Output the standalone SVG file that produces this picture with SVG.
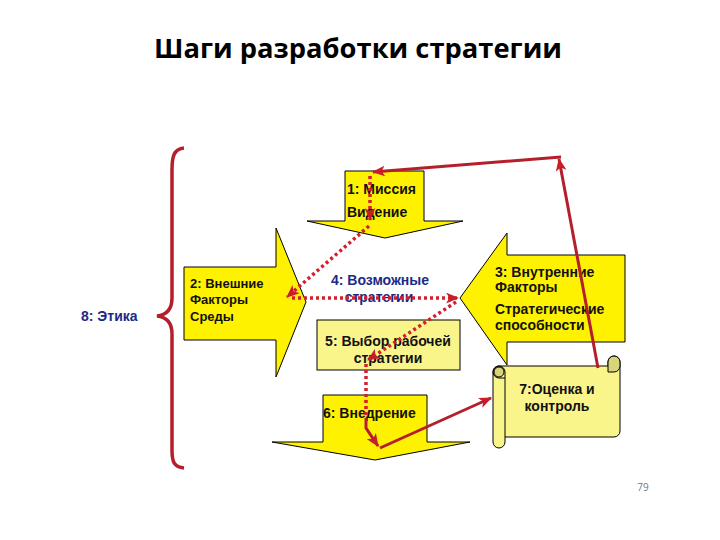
<svg xmlns="http://www.w3.org/2000/svg" width="720" height="540" viewBox="0 0 720 540">
<defs>
<style>
.arr{fill:#fff200;stroke:#000;stroke-width:1}
.pale{fill:#faf58a;stroke:#000;stroke-width:1}
.t{font-family:"Liberation Sans",Arial,sans-serif;font-weight:bold;font-size:14px;fill:#111}
.t2{font-family:"Liberation Sans",Arial,sans-serif;font-weight:bold;font-size:13px;fill:#111}
.blue{font-family:"Liberation Sans",Arial,sans-serif;font-weight:bold;font-size:14px;fill:#1c2a86}
.dot{fill:none;stroke:#d2202e;stroke-width:3.5;stroke-dasharray:3 3}
.sol{fill:none;stroke:#b51f2c;stroke-width:3}
</style>
<marker id="ah" viewBox="0 0 12 10" refX="11" refY="5" markerWidth="13" markerHeight="11" markerUnits="userSpaceOnUse" orient="auto">
<path d="M0,0 L12,5 L0,10 L3,5 Z" fill="#c81e2c"/>
</marker>
</defs>
<rect width="720" height="540" fill="#fff"/>
<text x="358" y="58" text-anchor="middle" font-family="'Open Sans','Noto Sans',sans-serif" font-weight="700" font-size="27" fill="#000" textLength="408" lengthAdjust="spacingAndGlyphs">Шаги разработки стратегии</text>

<g id="ethics">
<path d="M184,148 C174,149 172,156 172,170 L172,298 C172,310 166,315 157,316 C166,317 172,322 172,334 L172,450 C172,462 174,467 184,468" fill="none" stroke="#b51f2c" stroke-width="3.5"/>
<text x="81" y="321" class="blue">8: Этика</text>
</g>

<g id="n1">
<polygon class="arr" points="345,171 424,171 424,221 463,221 385,238 307,221 345,221"/>
<text x="347" y="194" class="t">1: Миссия</text>
<text x="347" y="217" class="t">Видение</text>
</g>

<g id="n2">
<polygon class="arr" points="184,267 276,267 276,228 306,302 276,377 276,340 184,340"/>
<text x="190" y="288" class="t2">2: Внешние</text>
<text x="190" y="304" class="t2">Факторы</text>
<text x="190" y="321" class="t2">Среды</text>
</g>

<g id="n3">
<polygon class="arr" points="460,298 507,233 507,255 625,255 625,342 507,342 507,365"/>
<text x="495" y="277" class="t">3: Внутренние</text>
<text x="495" y="292" class="t">Факторы</text>
<text x="495" y="314" class="t">Стратегические</text>
<text x="495" y="330" class="t">способности</text>
</g>

<g id="n4">
<text x="380" y="285" text-anchor="middle" class="blue">4: Возможные</text>
<text x="379" y="302" text-anchor="middle" class="blue">стратегии</text>
</g>

<g id="n5">
<rect class="pale" x="317" y="320" width="143" height="50"/>
<text x="388" y="346" text-anchor="middle" class="t">5: Выбор рабочей</text>
<text x="388" y="363" text-anchor="middle" class="t">стратегии</text>
</g>

<g id="n6">
<polygon class="arr" points="323,395 427,395 427,442 470,442 375,460 272,442 323,442"/>
<text x="323" y="418" class="t">6: Внедрение</text>
</g>

<g id="n7">
<path class="pale" d="M499,366 L608,366 L608,362 A6,6 0 0 1 620,362 L620,431 A6,6 0 0 1 614,437 L505,437 L505,442 A6,6 0 0 1 493,442 L493,372 A6,6 0 0 1 499,366 Z"/>
<path d="M608,366 L608,372 L614,372 A6,6 0 0 0 620,366 L620,362 A6,6 0 0 0 608,362 Z" fill="#d8d47a" stroke="#000" stroke-width="1"/>
<path d="M493,372 A6,6 0 0 1 505,372 L505,437 M505,378 L499,378 A6,6 0 0 1 493,372" fill="none" stroke="#000" stroke-width="1"/>
<circle cx="499" cy="372" r="5" fill="#d8d47a" stroke="#000" stroke-width="1"/>
<text x="557" y="394" text-anchor="middle" class="t">7:Оценка и</text>
<text x="557" y="411" text-anchor="middle" class="t">контроль</text>
</g>

<g id="connectors">
<path class="dot" d="M370,176 L370,220" marker-end="url(#ah)"/>
<path class="dot" d="M369,226 L287,297" marker-end="url(#ah)"/>
<path class="dot" d="M292,298 L458,298" marker-end="url(#ah)"/>
<path class="dot" d="M456,302 L368,360" marker-end="url(#ah)"/>
<path class="dot" d="M366,364 L366,418"/>
<path class="sol" d="M366,418 L366,428 L378,446" marker-end="url(#ah)"/>
<path class="sol" d="M380,448 L491,398" marker-end="url(#ah)"/>
<path class="sol" d="M598,368 L559,159" marker-end="url(#ah)"/>
<path class="sol" d="M561,157 L373,172" marker-end="url(#ah)"/>
</g>

<text x="643" y="491" text-anchor="middle" font-family="'Open Sans','Noto Sans',sans-serif" font-size="10" fill="#777">79</text>
</svg>
